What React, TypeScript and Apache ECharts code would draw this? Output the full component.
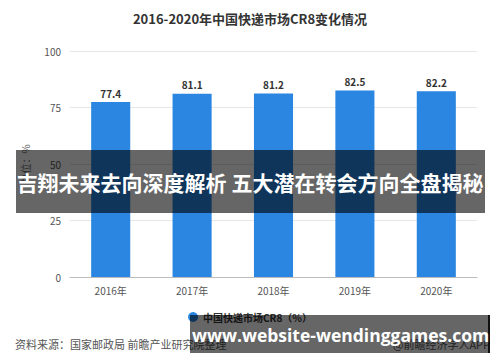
import React, { useEffect, useRef } from "react";
import * as echarts from "echarts";

const titleText = "2016-2020年中国快递市场CR8变化情况";
const categories = ["2016年", "2017年", "2018年", "2019年", "2020年"];
const seriesName = "中国快递市场CR8（%）";
const values = [77.4, 81.1, 81.2, 82.5, 82.2];
const yTicks = { min: 0, max: 100, interval: 25 };
const yAxisName = "单位：%";
const sourceText = "资料来源：国家邮政局 前瞻产业研究院整理";
const appText = "@前瞻经济学人APP";
const bannerText = "吉翔未来去向深度解析 五大潜在转会方向全盘揭秘";
const urlText = "www.website-wendinggames.com";

const FONT = '"Noto Sans CJK SC", "Noto Sans", sans-serif';

export default function App() {
  const ref = useRef<HTMLDivElement>(null);
  useEffect(() => {
    document.body.style.margin = "0";
    const chart = echarts.init(ref.current!, null, { renderer: "svg" });
    chart.setOption({
      animation: false,
      backgroundColor: "#ffffff",
      textStyle: { fontFamily: FONT },
      title: {
        text: titleText,
        left: "center",
        top: 7,
        textStyle: { fontSize: 13, fontWeight: "bold", color: "#333", fontFamily: FONT },
      },
      grid: { left: 70, right: 23, top: 51, bottom: 85 },
      legend: {
        data: [seriesName],
        left: "center",
        top: 307,
        icon: "circle",
        itemWidth: 10,
        itemHeight: 10,
        itemGap: 6,
        textStyle: { fontSize: 10, color: "#333", fontWeight: "bold", fontFamily: FONT },
      },
      xAxis: {
        type: "category",
        data: categories,
        axisLine: { lineStyle: { color: "#bbb" } },
        axisTick: { show: false },
        axisLabel: { color: "#555", fontSize: 10, margin: 8, fontFamily: FONT },
      },
      yAxis: {
        type: "value",
        min: yTicks.min,
        max: yTicks.max,
        interval: yTicks.interval,
        name: yAxisName,
        nameLocation: "middle",
        nameRotate: 90,
        nameGap: 40,
        nameTextStyle: { color: "#666", fontSize: 10, fontFamily: FONT },
        axisLine: { show: false },
        axisTick: { show: false },
        axisLabel: { color: "#555", fontSize: 10, margin: 9 },
        splitLine: { lineStyle: { color: "#e6e6e6" } },
      },
      series: [
        {
          name: seriesName,
          type: "bar",
          data: values,
          barWidth: "48%",
          itemStyle: { color: "#2a86e0" },
          label: {
            show: true,
            position: "top",
            distance: 4,
            color: "#333",
            fontSize: 10,
            fontWeight: "bold",
          },
        },
      ],
      graphic: [
        {
          type: "text",
          left: 15,
          top: 338,
          style: { text: sourceText, fill: "#555", fontSize: 11, fontFamily: FONT },
        },
        {
          type: "text",
          right: 10,
          top: 338,
          style: { text: appText, fill: "#555", fontSize: 11, fontFamily: FONT },
        },
        {
          type: "rect",
          shape: { x: 16, y: 150, width: 469, height: 63 },
          style: { fill: "rgba(0,0,0,0.6)" },
          z: 100,
        },
        {
          type: "text",
          x: 250,
          y: 182,
          z: 101,
          style: {
            text: bannerText,
            fill: "#ffffff",
            fontSize: 21,
            fontWeight: "bold",
            fontFamily: FONT,
            align: "center",
            verticalAlign: "middle",
          },
        },
        {
          type: "rect",
          shape: { x: 190, y: 315, width: 300, height: 38 },
          style: { fill: "rgba(0,0,0,0.6)" },
          z: 100,
        },
        {
          type: "rect",
          shape: { x: 488, y: 315, width: 2, height: 38 },
          style: { fill: "#111" },
          z: 101,
        },
        {
          type: "text",
          x: 192,
          y: 335,
          z: 101,
          style: {
            text: urlText,
            fill: "#ffffff",
            fontSize: 17.5,
            fontWeight: "bold",
            fontFamily: '"Open Sans", "DejaVu Sans", sans-serif',
            align: "left",
            verticalAlign: "middle",
          },
        },
      ],
    });
    return () => chart.dispose();
  }, []);
  return (
    <div
      ref={ref}
      style={{ position: "fixed", left: 0, top: 0, width: 500, height: 362 }}
    />
  );
}
